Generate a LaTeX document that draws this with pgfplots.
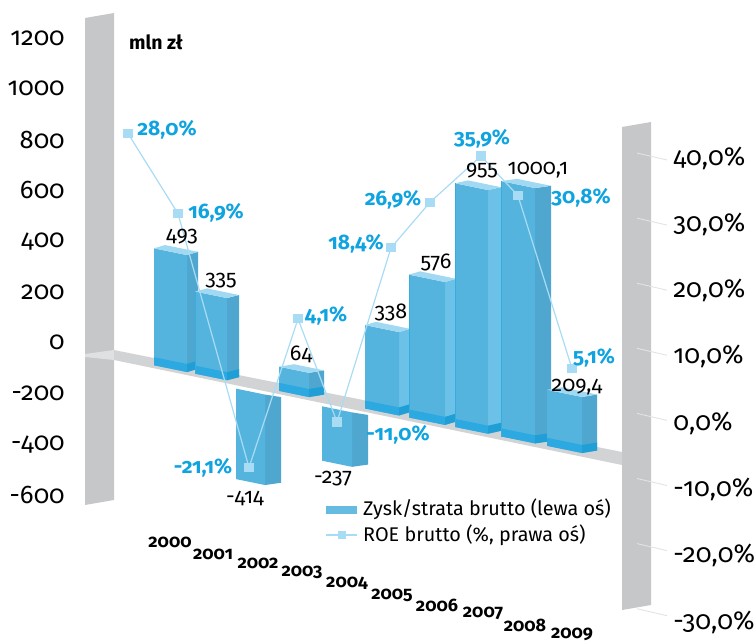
\documentclass[border=0pt]{standalone}
\usepackage{fontspec}
\setmainfont[Numbers=OldStyle]{Fira Sans}
\usepackage{pgfplots}
\pgfplotsset{compat=1.18}
\definecolor{panel}{HTML}{C6C7C9}
\definecolor{bandc}{HTML}{D2D3D5}
\definecolor{front}{HTML}{55B4DE}
\definecolor{sided}{HTML}{4FA7D0}
\definecolor{sidel}{HTML}{6CC1E8}
\definecolor{strip}{HTML}{2BA9E0}
\definecolor{strips}{HTML}{1F9FD6}
\definecolor{topc}{HTML}{A2D9F2}
\definecolor{roe}{HTML}{A8DCF5}
\definecolor{roet}{HTML}{0FA3E0}
\newcommand{\lab}{\fontsize{21.5}{23}\selectfont}
\newcommand{\ticl}{\fontsize{25.5}{27}\selectfont}
\newcommand{\ticr}{\fontsize{26}{28}\selectfont}
\newcommand{\roel}{\fontsize{21}{23}\selectfont\bfseries}
\newcommand{\yrl}{\fontsize{18}{20}\selectfont\bfseries}
\newcommand{\leg}{\fontsize{19.8}{22}\selectfont}
% box bar: xl xm xr value adjust sidecolour
\newcommand{\boxbar}[6]{%
  \pgfmathsetmacro\dv{#4+#5}%
  \pgfmathsetmacro\dvb{\dv+22}%
  \pgfmathtruncatemacro\ispos{#4>0}%
  \ifnum\ispos=1
    \def\st{0}\def\stb{22}%
  \else
    \def\st{-26}\def\stb{-23}%
  \fi
  \addplot[fill=#6,draw=none,no marks] coordinates {(#2,\st)(#3,\stb)(#3,\dvb)(#2,\dv)} -- cycle;
  \addplot[fill=front,draw=none,no marks] coordinates {(#1,\st)(#2,\st)(#2,\dv)(#1,\dv)} -- cycle;
  \ifnum\ispos=1
    \pgfmathsetmacro\bx{#1+#3-#2}%
    \addplot[fill=topc,draw=none,no marks] coordinates {(#1,\dv)(#2,\dv)(#3,\dvb)(\bx,\dvb)} -- cycle;
    \addplot[fill=strip,draw=none,no marks] coordinates {(#1,0)(#2,0)(#2,32)(#1,32)} -- cycle;
    \addplot[fill=strips,draw=none,no marks] coordinates {(#2,0)(#3,22)(#3,54)(#2,32)} -- cycle;
  \fi
}
\newcommand{\edgebar}[2]{\addplot[color=strip!75!front,line width=1.3pt,no marks] coordinates {(#1,0)(#1,#2)};}
\pgfplotsset{frame/.style={at={(0pt,0pt)},anchor=south west,scale only axis,width=754pt,height=642pt,
  xmin=0,xmax=754,ymin=0,ymax=642,y dir=reverse,hide axis,clip=false}}
\begin{document}
\begin{tikzpicture}[x=1pt,y=1pt]
\useasboundingbox (0,0) rectangle (754,642);
% background panels
\begin{axis}[frame]
\addplot[fill=panel,draw=none,no marks] coordinates {(85,18)(114,13)(114,500)(85,505)} -- cycle;
\addplot[fill=panel,draw=none,no marks] coordinates {(622,127)(651,122)(651,605)(622,610)} -- cycle;
\addplot[fill=bandc!70!white,draw=none,no marks] coordinates {(85,354)(114,350)(114,360)(85,357)} -- cycle;
\addplot[fill=bandc,draw=none,no marks] coordinates {(114,350)(622,452)(622,465)(114,360)} -- cycle;
\pgfplotsinvokeforeach{0,...,7}{\draw[color=black!11,line width=0.9pt] (637,{153+65.1*#1}) -- (667,{160+65.1*#1});}
\end{axis}
% left tick labels
\begin{axis}[at={(70pt,146.8pt)},anchor=south west,scale only axis,width=2pt,height=457.2pt,
  xmin=0,xmax=1,ymin=-600,ymax=1200,axis y line=left,axis x line=none,
  y axis line style={draw=none},major tick style={draw=none},
  ytick={-600,-400,-200,0,200,400,600,800,1000,1200},
  yticklabels={-600,-400,-200,0,200,400,600,800,1000,1200},
  yticklabel style={font=\ticl,anchor=east,inner sep=0pt,xshift=-3pt}]
\end{axis}
% right tick labels
\begin{axis}[at={(670pt,20pt)},anchor=south west,scale only axis,width=2pt,height=464pt,
  xmin=0,xmax=1,ymin=-30,ymax=40,axis y line=right,axis x line=none,
  y axis line style={draw=none},major tick style={draw=none},
  ytick={-30,-20,-10,0,10,20,30,40},
  yticklabels={{-30,0\%},{-20,0\%},{-10,0\%},{0,0\%},{10,0\%},{20,0\%},{30,0\%},{40,0\%}},
  yticklabel style={font=\ticr,anchor=west,inner sep=0pt,xshift=-1pt}]
\end{axis}
% bars: left scale on a skewed base line
\begin{axis}[at={(0pt,308.3pt)},anchor=origin,x={(1pt,-0.205pt)},y={(0pt,0.252pt)},
  xmin=0,xmax=754,ymin=-1000,ymax=1400,hide axis,clip=false]
\boxbar{154}{187}{198}{493}{-29}{sided}
\boxbar{195}{227}{239}{335}{-9}{sided}
\edgebar{195.5}{326}
\boxbar{236}{265}{281}{-414}{29}{sided}
\boxbar{279}{309}{324}{64}{32}{sided}
\boxbar{322}{352}{368}{-237}{-5}{sided}
\boxbar{365}{399}{410}{338}{-7}{sidel}
\boxbar{409}{445}{456}{576}{-9}{sidel}
\edgebar{409.5}{567}
\boxbar{455}{488}{501}{955}{12}{sidel}
\edgebar{455.5}{967}
\boxbar{501}{535}{551}{1000.1}{13}{sided}
\edgebar{501.5}{1013}
\boxbar{547}{582}{597}{209.4}{13}{sided}
\end{axis}
% ROE: right scale on the same skewed base line
\begin{axis}[at={(0pt,358.4pt)},anchor=origin,x={(1pt,-0.205pt)},y={(0pt,6.3pt)},
  xmin=0,xmax=754,ymin=-40,ymax=50,hide axis,clip=false]
\addplot[color=roe,line width=1.2pt,mark=square*,mark size=4pt,mark options={fill=roe,draw=none}]
 coordinates {(128,28.0)(178,16.9)(249,-21.1)(298,4.1)(337,-11.0)(391,18.4)(430,26.9)(481,35.9)(518,30.8)(572,5.1)};
\end{axis}
% texts
\begin{axis}[frame]
\node[font=\fontsize{19.5}{21}\selectfont\bfseries] at (156,42) {mln zł};
\node[font=\lab] at (182,237) {493};
\node[font=\lab] at (221,281) {335};
\node[font=\lab] at (245,498) {-414};
\node[font=\lab] at (301,354) {64};
\node[font=\lab] at (333,479) {-237};
\node[font=\lab] at (391,312) {338};
\node[font=\lab] at (436,262) {576};
\node[font=\lab] at (482,171) {955};
\node[font=\lab] at (538,170) {1000,1};
\node[font=\lab] at (577,387) {209,4};
\node[font=\roel,text=roet] at (167,130) {28,0\%};
\node[font=\roel,text=roet] at (216,213) {16,9\%};
\node[font=\roel,text=roet] at (203,468) {-21,1\%};
\node[font=\roel,text=roet] at (326,316) {4,1\%};
\node[font=\roel,text=roet] at (398,435) {-11,0\%};
\node[font=\roel,text=roet] at (356,244) {18,4\%};
\node[font=\roel,text=roet] at (393,200) {26,9\%};
\node[font=\roel,text=roet] at (482,139) {35,9\%};
\node[font=\roel,text=roet] at (581,198) {30,8\%};
\node[font=\roel,text=roet] at (594,358) {5,1\%};
\node[font=\yrl] at (170,542) {2000};
\node[font=\yrl] at (213,554) {2001};
\node[font=\yrl] at (258,563) {2002};
\node[font=\yrl] at (302,572) {2003};
\node[font=\yrl] at (347,583) {2004};
\node[font=\yrl] at (392,595) {2005};
\node[font=\yrl] at (437,605) {2006};
\node[font=\yrl] at (483,613) {2007};
\node[font=\yrl] at (525,625) {2008};
\node[font=\yrl] at (572,634) {2009};
\fill[color=front!90!white] (326,506) rectangle (357,514);
\draw[color=roe,line width=1.2pt] (326,535) -- (357,535);
\fill[color=roe] (338,531) rectangle (346,539);
\node[font=\leg,anchor=west,inner sep=0pt] at (363,509) {Zysk/strata brutto (lewa oś)};
\node[font=\leg,anchor=west,inner sep=0pt] at (363,535) {ROE brutto (\%, prawa oś)};
\end{axis}
\end{tikzpicture}
\end{document}
